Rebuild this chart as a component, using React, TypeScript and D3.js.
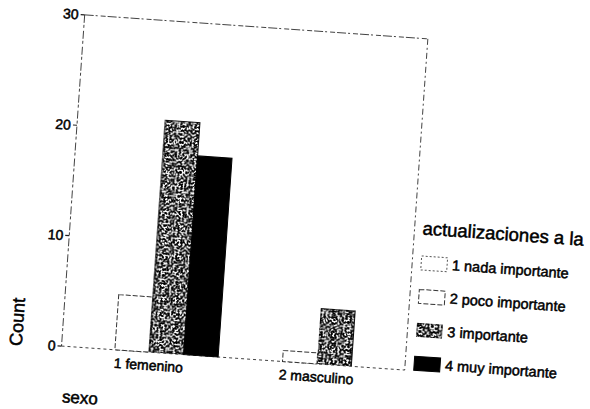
import React from "react";
import * as d3 from "d3";

const categories = ["1 femenino", "2 masculino"];
const series = ["1 nada importante", "2 poco importante", "3 importante", "4 muy importante"];
const nadaImportante = [0, 0];
const pocoImportante = [5, 1];
const importante = [21, 5];
const muyImportante = [18, 0];
const yTicks = [0, 10, 20, 30];
const legendTitle = "actualizaciones a la";
const yTitle = "Count";
const xTitle = "sexo";

const values = [nadaImportante, pocoImportante, importante, muyImportante];

const W = 590, H = 409;
const left = 72, right = 416, top = 30, bottom = 362;

const font = "'Liberation Sans', Arial, sans-serif";
const textStyle = { fontFamily: font, fill: "#000", stroke: "#000", strokeWidth: 0.5 } as const;

export default function App() {
  const y = d3.scaleLinear().domain([0, 30]).range([bottom, top]);
  const x0 = d3.scaleBand<string>().domain(categories).range([left, right]).paddingInner(0.1786).paddingOuter(0.113);
  const x1 = d3.scaleBand<string>().domain(series).range([0, x0.bandwidth()]);

  const barStyle = (si: number) => {
    if (si === 0) return { fill: "#fff", stroke: "#555", strokeWidth: 1, strokeDasharray: "2 2" };
    if (si === 1) return { fill: "#fff", stroke: "#333", strokeWidth: 1, strokeDasharray: "5 2" };
    if (si === 2) return { fill: "#fff", stroke: "#111", strokeWidth: 1, filter: "url(#speckle)" };
    return { fill: "#000", stroke: "#000", strokeWidth: 1 };
  };

  const frameStroke = { stroke: "#333", strokeWidth: 0.9, fill: "none" };

  return (
    <svg width={W} height={H} style={{ position: "absolute", left: 0, top: 0, background: "#fff" }}>
      <defs>
        <filter id="speckle" x="0" y="0" width="1" height="1" colorInterpolationFilters="sRGB">
          <feTurbulence type="fractalNoise" baseFrequency="0.5" numOctaves="3" seed="11" result="n" />
          <feColorMatrix in="n" type="matrix" values="0 0 0 0 0  0 0 0 0 0  0 0 0 0 0  -12 0 0 0 6.7" result="d" />
          <feComposite in="d" in2="SourceGraphic" operator="in" result="dc" />
          <feMerge>
            <feMergeNode in="SourceGraphic" />
            <feMergeNode in="dc" />
          </feMerge>
        </filter>
      </defs>
      <rect width={W} height={H} fill="#fff" />
      <g transform="rotate(4, 295, 204)">
        {/* frame */}
        <line x1={left} y1={top} x2={right} y2={top} {...frameStroke} strokeDasharray="9 2 2 3 5 2" />
        <line x1={right} y1={top} x2={right} y2={bottom} {...frameStroke} strokeDasharray="6 3 2 3" />
        <line x1={left} y1={top} x2={left} y2={bottom} {...frameStroke} strokeDasharray="8 2 3 3" />
        <line x1={left} y1={bottom} x2={right} y2={bottom} {...frameStroke} strokeDasharray="3 3" />

        {/* y ticks */}
        {yTicks.map((t) => (
          <g key={t}>
            <line x1={left - 4} x2={left} y1={y(t)} y2={y(t)} stroke="#222" strokeWidth={1.2} />
            <text x={left - 6} y={y(t)} dy="0.35em" textAnchor="end" fontSize={14} {...textStyle}>
              {t}
            </text>
          </g>
        ))}

        {/* bars */}
        {categories.map((c, ci) => (
          <g key={c}>
            {series.map((s, si) => {
              const v = values[si][ci];
              const bx = (x0(c) ?? 0) + (x1(s) ?? 0);
              return (
                <rect key={s} x={bx} y={y(v)} width={x1.bandwidth()} height={bottom - y(v)} {...barStyle(si)} />
              );
            })}
            <text x={(x0(c) ?? 0) + x0.bandwidth() / 2} y={bottom + 13} dy="0.35em" textAnchor="middle" fontSize={14} {...textStyle}>
              {c}
            </text>
          </g>
        ))}

        {/* axis titles */}
        <text transform={`translate(26, 341) rotate(-90)`} dy="0.35em" textAnchor="middle" fontSize={18} {...textStyle}>
          {yTitle}
        </text>
        <text x={94} y={412} dy="0.35em" textAnchor="middle" fontSize={17} {...textStyle}>
          {xTitle}
        </text>

        {/* legend */}
        <text x={424} y={219} dy="0.35em" fontSize={18.5} {...textStyle}>
          {legendTitle}
        </text>
        {series.map((s, si) => {
          const ry = 254 + si * 33.5;
          return (
            <g key={s}>
              <rect x={425} y={ry - 7} width={26} height={14} {...barStyle(si)} />
              <text x={456} y={ry} dy="0.35em" fontSize={14.5} {...textStyle}>
                {s}
              </text>
            </g>
          );
        })}
      </g>
    </svg>
  );
}
